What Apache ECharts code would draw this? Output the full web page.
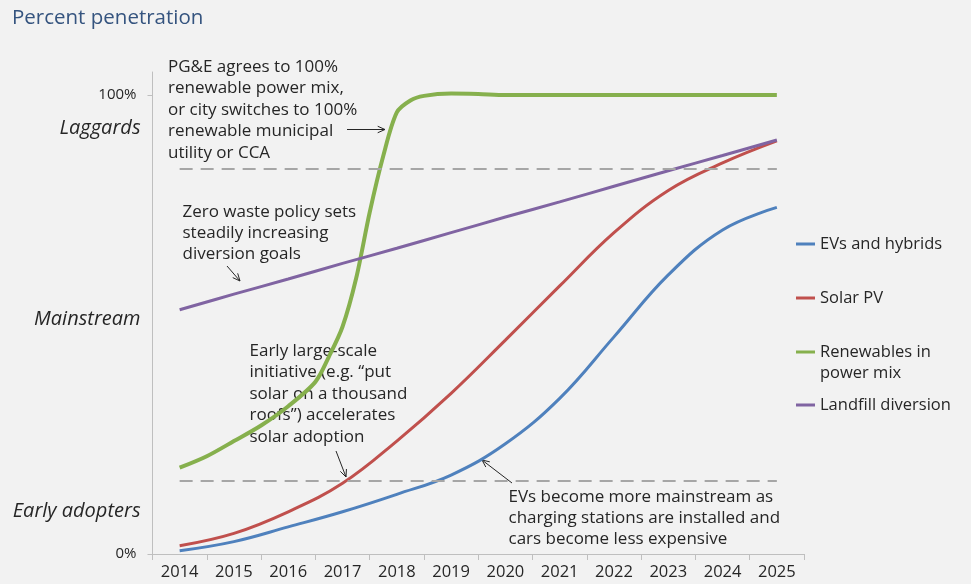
<!DOCTYPE html>
<html>
<head>
<meta charset="utf-8">
<title>Percent penetration</title>
<script src="https://cdn.jsdelivr.net/npm/echarts@6/dist/echarts.min.js"></script>
<style>
  html, body { margin: 0; padding: 0; background: #f2f2f2; }
  #chart { width: 971px; height: 584px; }
</style>
</head>
<body>
<div id="chart"></div>
<script>
// Years shown on the horizontal axis
const years = [2014, 2015, 2016, 2017, 2018, 2019, 2020, 2021, 2022, 2023, 2024, 2025];

// Percent penetration by year
const evsAndHybrids = [0.7, 2.7, 5.9, 9.2, 13.0, 17.2, 24.0, 33.9, 47.3, 60.8, 70.6, 75.5];
const solarPV = [1.8, 4.5, 9.2, 15.4, 24.6, 35.0, 46.6, 58.4, 70.0, 79.2, 85.2, 90.0];
const landfillDiversion = [53.2, 56.6, 59.9, 63.3, 66.6, 70.0, 73.4, 76.7, 80.1, 83.5, 86.8, 90.2];

// The renewables curve jumps within 2017, so it is read at finer steps
const renewableYears = [2014, 2014.5, 2015, 2015.5, 2016, 2016.5, 2016.75, 2017, 2017.25, 2017.5, 2017.75,
  2018, 2018.25, 2018.5, 2019, 2019.5, 2020, 2021, 2022, 2023, 2024, 2025];
const renewables = [18.8, 21.3, 24.6, 28.0, 32.2, 37.5, 43.0, 49.5, 60.0, 74.4, 86.7,
  96.2, 98.8, 99.8, 100.3, 100.2, 100, 100, 100, 100, 100, 100];

const seriesNames = ['EVs and hybrids', 'Solar PV', 'Renewables in power mix', 'Landfill diversion'];
const legendLabels = ['EVs and hybrids', 'Solar PV', 'Renewables in\npower mix', 'Landfill diversion'];

// Adoption thresholds (dashed guides) and stage labels on the left
const thresholds = [16, 84];
const stageNames = ['Early adopters', 'Mainstream', 'Laggards'];
const stageLevels = [9.4, 51.2, 92.8];
const percentTicks = [0, 100];

const notes = [
  'PG&E agrees to 100%\nrenewable power mix,\nor city switches to 100%\nrenewable municipal\nutility or CCA',
  'Zero waste policy sets\nsteadily increasing\ndiversion goals',
  'Early large-scale\ninitiative (e.g. \u201cput\nsolar on a thousand\nroofs\u201d) accelerates\nsolar adoption',
  'EVs become more mainstream as\ncharging stations are installed and\ncars become less expensive'
];

const FONT = '"Open Sans", "Noto Sans", sans-serif';
const INK = '#262626';
const colors = ['#4f81bd', '#c0504d', '#86b04d', '#8064a2'];

const pairs = (xs, ys) => xs.map((x, i) => [x, ys[i]]);

function arrow(x1, y1, x2, y2) {
  const a = Math.atan2(y2 - y1, x2 - x1);
  const len = 8, spread = 0.42;
  const p1 = [x2 - len * Math.cos(a - spread), y2 - len * Math.sin(a - spread)];
  const p2 = [x2 - len * Math.cos(a + spread), y2 - len * Math.sin(a + spread)];
  return {
    type: 'group',
    children: [
      { type: 'line', shape: { x1, y1, x2, y2 }, style: { stroke: INK, lineWidth: 1 } },
      { type: 'polyline', shape: { points: [p1, [x2, y2], p2] }, style: { stroke: INK, lineWidth: 1, fill: null } }
    ]
  };
}

function note(text, x, y) {
  return {
    type: 'text', x, y,
    style: { text, fontFamily: FONT, fontSize: 17, lineHeight: 21.4, fill: INK, textVerticalAlign: 'top' }
  };
}

// One legend block per series; a wrapped label gets a blank first row so that
// its first text row sits level with the swatch
const legendCenters = [244, 298, 352, 405];
const legendTextStyle = { fontFamily: FONT, fontSize: 16.5, lineHeight: 21, color: INK, padding: 0 };
const legends = seriesNames.map((name, i) => {
  const rows = legendLabels[i].split('\n').length;
  return {
    orient: 'vertical',
    left: 796,
    top: legendCenters[i] - 10.5 * (rows > 1 ? 3 : 1),
    padding: 0,
    itemWidth: 19, itemHeight: 3,
    icon: 'rect',
    data: [name],
    formatter: n => {
      const label = legendLabels[seriesNames.indexOf(n)];
      return label.indexOf('\n') >= 0 ? ' \n' + label : label;
    },
    textStyle: legendTextStyle
  };
});

const chart = echarts.init(document.getElementById('chart'), null, { renderer: 'canvas' });

const guideLines = thresholds.map(v => [{ coord: [years[0], v] }, { coord: [years[years.length - 1], v] }]);

chart.setOption({
  backgroundColor: '#f2f2f2',
  animation: false,
  textStyle: { fontFamily: FONT },
  title: {
    text: 'Percent penetration',
    left: 7, top: 3,
    textStyle: { fontFamily: FONT, fontSize: 20.5, fontWeight: 'normal', color: '#35547f' }
  },
  grid: { left: 152.5, right: 167, top: 72, bottom: 30 },
  legend: legends,
  xAxis: {
    type: 'value',
    min: 2013.5, max: 2025.5,
    axisLine: { show: true, lineStyle: { color: '#bfbfbf', width: 1 } },
    axisTick: { show: true, length: 6, lineStyle: { color: '#bfbfbf' },
      customValues: years.map(y => y - 0.5).concat([years[years.length - 1] + 0.5]) },
    axisLabel: { customValues: years, formatter: v => String(v), color: INK, fontSize: 16.5, margin: 10, fontFamily: FONT },
    splitLine: { show: false }
  },
  yAxis: [
    {
      type: 'value', min: 0, max: 105,
      axisLine: { show: true, lineStyle: { color: '#bfbfbf', width: 1 } },
      axisTick: { show: true, length: 5, lineStyle: { color: '#bfbfbf' }, customValues: percentTicks },
      axisLabel: { customValues: percentTicks, formatter: v => v + '%', color: INK, fontSize: 15, margin: 16, fontFamily: FONT },
      splitLine: { show: false }
    },
    {
      type: 'value', min: 0, max: 105, position: 'left',
      axisLine: { show: false }, axisTick: { show: false },
      axisLabel: {
        customValues: stageLevels,
        formatter: v => stageNames[stageLevels.indexOf(v)],
        color: INK, fontSize: 20, fontStyle: 'italic', margin: 12, fontFamily: FONT
      },
      splitLine: { show: false }
    }
  ],
  series: [
    {
      name: seriesNames[0], type: 'line', data: pairs(years, evsAndHybrids),
      smooth: 0.4, showSymbol: false, color: colors[0], lineStyle: { width: 3 }, z: 3,
      markLine: {
        silent: true, symbol: 'none', label: { show: false },
        lineStyle: { color: '#a6a6a6', type: [13, 8], width: 2 },
        data: guideLines
      }
    },
    {
      name: seriesNames[1], type: 'line', data: pairs(years, solarPV),
      smooth: 0.4, showSymbol: false, color: colors[1], lineStyle: { width: 3 }, z: 3
    },
    {
      name: seriesNames[2], type: 'line', data: pairs(renewableYears, renewables),
      smooth: 0.3, showSymbol: false, color: colors[2], lineStyle: { width: 4 }, z: 3
    },
    {
      name: seriesNames[3], type: 'line', data: pairs(years, landfillDiversion),
      smooth: 0.4, showSymbol: false, color: colors[3], lineStyle: { width: 3 }, z: 4
    }
  ],
  graphic: [
    note(notes[0], 168, 56.5),
    note(notes[1], 182.5, 201),
    note(notes[2], 249.5, 340.5),
    note(notes[3], 508.5, 486),
    arrow(347, 129.5, 385, 129.5),
    arrow(227, 266, 240, 281),
    arrow(336, 451, 346, 477),
    arrow(512, 483, 482, 460)
  ]
});
</script>
</body>
</html>
